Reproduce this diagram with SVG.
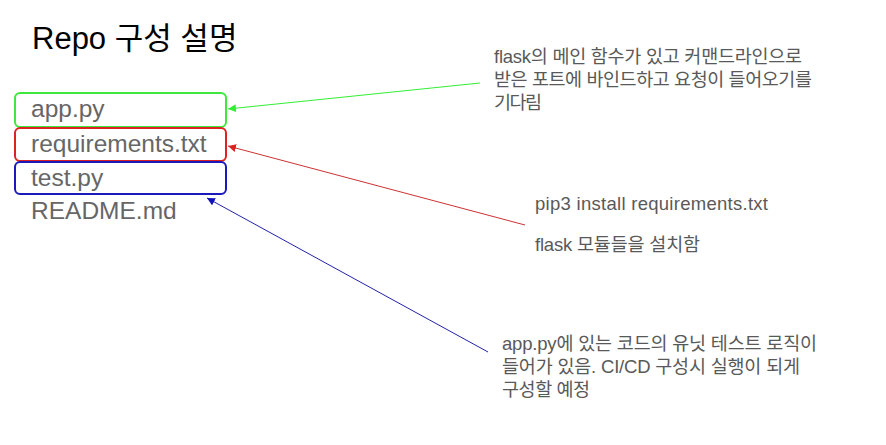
<svg xmlns="http://www.w3.org/2000/svg" width="886" height="445" viewBox="0 0 886 445">
<defs>
<style>
.t{font-family:"Liberation Sans","Noto Sans CJK KR",sans-serif;}
.title{font-size:31px;fill:#000;}
.file{font-size:24.5px;fill:#666;}
.note{font-size:18.5px;fill:#595959;}
.box{fill:none;stroke-width:2;}
.ln{fill:none;stroke-width:1;}
</style>
<marker id="ag" viewBox="0 0 10 10" refX="10" refY="5" markerWidth="8" markerHeight="8" orient="auto" markerUnits="userSpaceOnUse"><path d="M0,0 L10,5 L0,10 z" fill="#33ee33"/></marker>
<marker id="ar" viewBox="0 0 10 10" refX="10" refY="5" markerWidth="8" markerHeight="8" orient="auto" markerUnits="userSpaceOnUse"><path d="M0,0 L10,5 L0,10 z" fill="#dd2222"/></marker>
<marker id="ab" viewBox="0 0 10 10" refX="10" refY="5" markerWidth="8" markerHeight="8" orient="auto" markerUnits="userSpaceOnUse"><path d="M0,0 L10,5 L0,10 z" fill="#1111bb"/></marker>
</defs>
<rect width="886" height="445" fill="#fff"/>
<text class="t title" x="32" y="49">Repo 구성 설명</text>
<g id="node-app">
<rect class="box" x="15" y="93" width="211" height="34" rx="5" stroke="#3fe83f"/>
<text class="t file" x="31" y="117">app.py</text>
</g>
<g id="node-req">
<rect class="box" x="15" y="128" width="211" height="33" rx="5" stroke="#dd2222"/>
<text class="t file" x="31" y="152">requirements.txt</text>
</g>
<g id="node-test">
<rect class="box" x="15" y="162" width="211" height="32" rx="5" stroke="#1a1abb"/>
<text class="t file" x="31" y="186">test.py</text>
</g>
<g id="node-readme">
<text class="t file" x="31" y="219">README.md</text>
</g>
<g id="note-app">
<text class="t note" x="494" y="63" textLength="308">flask의 메인 함수가 있고 커맨드라인으로</text>
<text class="t note" x="494" y="86" textLength="318">받은 포트에 바인드하고 요청이 들어오기를</text>
<text class="t note" x="494" y="109" textLength="48">기다림</text>
</g>
<g id="note-req">
<text class="t note" x="535" y="210" textLength="233">pip3 install requirements.txt</text>
<text class="t note" x="535" y="251" textLength="165">flask 모듈들을 설치함</text>
</g>
<g id="note-test">
<text class="t note" x="502" y="350" textLength="315">app.py에 있는 코드의 유닛 테스트 로직이</text>
<text class="t note" x="502" y="373" textLength="298">들어가 있음. CI/CD 구성시 실행이 되게</text>
<text class="t note" x="502" y="396" textLength="88">구성할 예정</text>
</g>
<g id="connectors">
<line class="ln" x1="480" y1="83" x2="228" y2="109" stroke="#33ee33" marker-end="url(#ag)"/>
<line class="ln" x1="525" y1="225" x2="228" y2="146" stroke="#cc3333" marker-end="url(#ar)"/>
<line class="ln" x1="488" y1="352" x2="207" y2="198" stroke="#2222aa" marker-end="url(#ab)"/>
</g>
</svg>
